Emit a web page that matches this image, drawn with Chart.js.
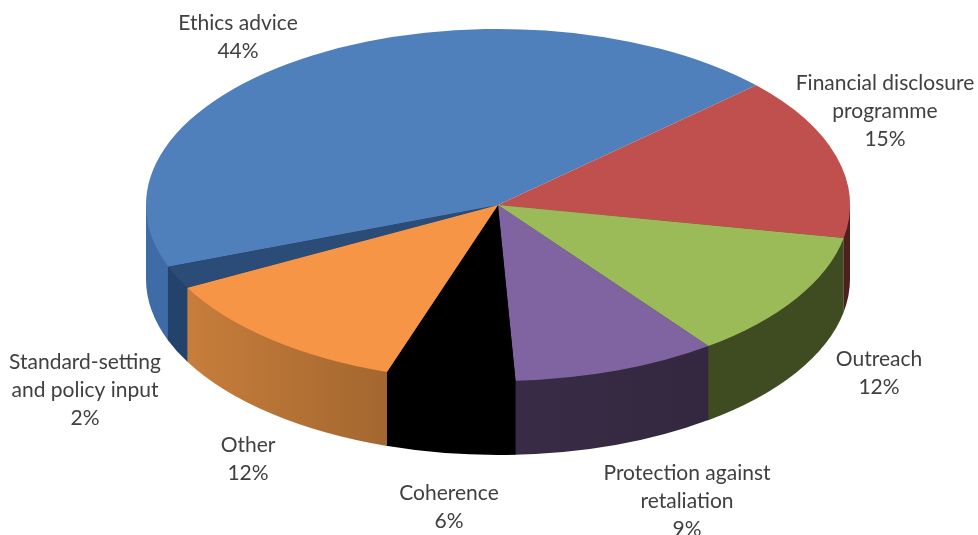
<!DOCTYPE html>
<html>
<head>
<meta charset="utf-8">
<script src="https://cdn.jsdelivr.net/npm/chart.js@4"></script>
<style>
  html, body { margin: 0; padding: 0; background: #fff; }
  #wrap { width: 978px; height: 535px; }
</style>
</head>
<body>
<div id="wrap"><canvas id="pie"></canvas></div>
<script>
const categories = ['Ethics advice', 'Financial disclosure programme', 'Outreach',
  'Protection against retaliation', 'Coherence', 'Other', 'Standard-setting and policy input'];
// estimated from the slice edges, the labels show them rounded
const shares = [43.8, 14.9, 11.8, 9.4, 5.9, 12.1, 2.1];
// how each category name wraps in its label
const labelLines = [['Ethics advice'], ['Financial disclosure', 'programme'], ['Outreach'],
  ['Protection against', 'retaliation'], ['Coherence'], ['Other'], ['Standard-setting', 'and policy input']];

const faceColors = ['#4f80bc', '#bf504d', '#9bbb59', '#8064a2', '#000000', '#f59545', '#2b4c76'];
// wall shading, left edge -> right edge of each slice
const wallColors = [['#3f6ca6', '#3f6ca6'], ['#4f1f1e', '#4f1f1e'], ['#3f4c22', '#3f4c22'],
  ['#453251', '#332840'], ['#000000', '#000000'], ['#cf823e', '#a3672f'], ['#24436c', '#24436c']];
// label centre x, first line middle y
const labelAnchors = [[238, 23], [885, 83], [879, 359], [687, 473], [449, 493], [248, 445], [85, 362]];

const TILT = 0.5;      // flattening of the disc
const DEPTH = 74;      // wall height in px
const LINE_H = 28;
const OVERLAP = 0.003; // radians a wall runs under its neighbour, hides the seam

// faces are drawn by Chart.js inside a flattened transform, walls are built from the same arcs
const pie3d = {
  id: 'pie3d',
  beforeDatasetsDraw(chart) {
    const { ctx } = chart;
    chart.getDatasetMeta(0).data.forEach((arc, i) => {
      const { x, y, startAngle, endAngle, outerRadius: r } = arc.getProps(['x', 'y', 'startAngle', 'endAngle', 'outerRadius'], true);
      const x0 = x + r * Math.cos(Math.min(endAngle, Math.PI));
      const x1 = x + r * Math.cos(Math.max(startAngle, 0));
      const g = ctx.createLinearGradient(Math.min(x0, x1), 0, Math.max(x0, x1), 0);
      g.addColorStop(0, wallColors[i][0]);
      g.addColorStop(1, wallColors[i][1]);
      // only the part of the rim facing the viewer (0..PI on the canvas) shows
      [-2 * Math.PI, 0, 2 * Math.PI].forEach((off) => {
        const lo = Math.max(startAngle + off, 0);
        const hi = Math.min(endAngle + off + OVERLAP, Math.PI);
        if (lo >= hi) return;
        // path runs through the hub so the rim itself is under the face, no white fringe
        ctx.beginPath();
        ctx.moveTo(x, y);
        ctx.lineTo(x + r * Math.cos(lo), y + r * TILT * Math.sin(lo));
        ctx.ellipse(x, y + DEPTH, r, r * TILT, 0, lo, hi);
        ctx.lineTo(x + r * Math.cos(hi), y + r * TILT * Math.sin(hi));
        ctx.closePath();
        ctx.fillStyle = g;
        ctx.fill();
      });
    });
  },
  beforeDatasetDraw(chart) {
    const { ctx } = chart;
    const { y } = chart.getDatasetMeta(0).data[0];
    ctx.save();
    ctx.translate(0, y);
    ctx.scale(1, TILT);
    ctx.translate(0, -y);
  },
  afterDatasetDraw(chart) {
    chart.ctx.restore();
  },
  afterDraw(chart) {
    const { ctx } = chart;
    ctx.save();
    ctx.font = '21px Lato, "Open Sans", sans-serif';
    ctx.fillStyle = '#404040';
    ctx.textAlign = 'center';
    ctx.textBaseline = 'middle';
    labelLines.forEach((lines, i) => {
      const [cx, top] = labelAnchors[i];
      lines.concat(`${Math.round(shares[i])}%`).forEach((t, n) => ctx.fillText(t, cx, top + n * LINE_H));
    });
    ctx.restore();
  },
};

new Chart(document.getElementById('pie'), {
  type: 'pie',
  data: {
    labels: categories,
    datasets: [{ data: shares, backgroundColor: faceColors, borderWidth: 0 }],
  },
  options: {
    responsive: true, maintainAspectRatio: false, animation: false,
    radius: 352,
    rotation: 249.5,
    layout: { padding: { left: 18, bottom: 125 } },
    plugins: { legend: { display: false }, tooltip: { enabled: false } },
  },
  plugins: [pie3d],
});
</script>
</body>
</html>
